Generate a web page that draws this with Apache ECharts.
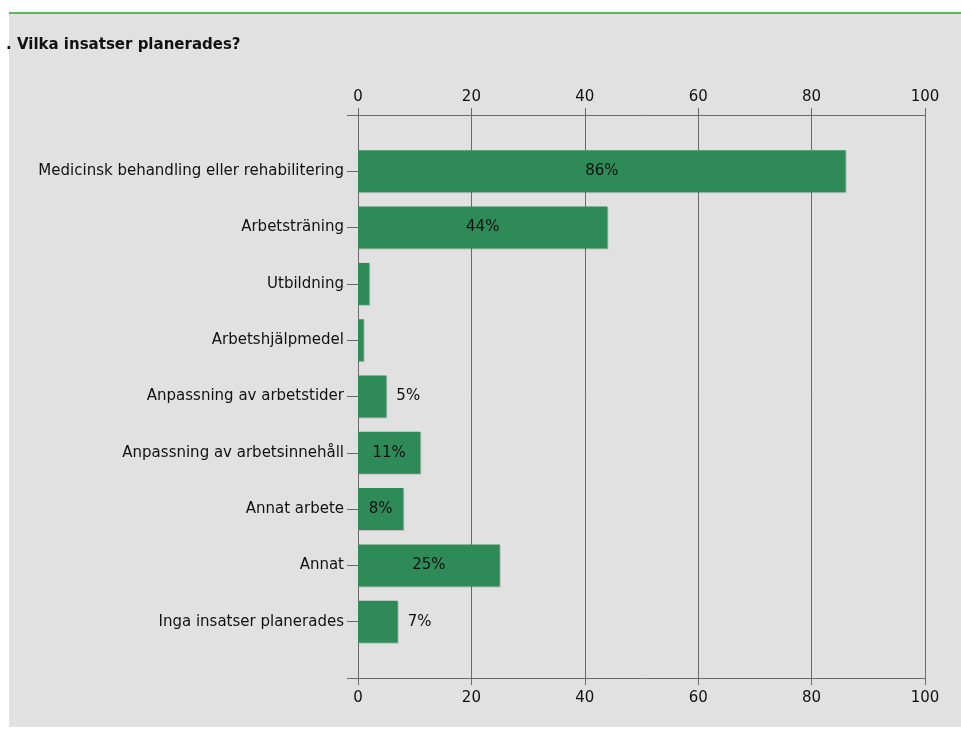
<!DOCTYPE html>
<html>
<head>
<meta charset="utf-8">
<script src="https://cdn.jsdelivr.net/npm/echarts@6/dist/echarts.min.js"></script>
<style>
  html, body { margin: 0; padding: 0; background: #fff; }
  #chart { width: 961px; height: 731px; }
</style>
</head>
<body>
<div id="chart"></div>
<script>
var categories = [
    'Medicinsk behandling eller rehabilitering',
    'Arbetsträning',
    'Utbildning',
    'Arbetshjälpmedel',
    'Anpassning av arbetstider',
    'Anpassning av arbetsinnehåll',
    'Annat arbete',
    'Annat',
    'Inga insatser planerades'
];
var values = [86, 44, 2, 1, 5, 11, 8, 25, 7];
var xTicks = [0, 20, 40, 60, 80, 100];

var chart = echarts.init(document.getElementById('chart'));

// empty slots at both ends so the categories sit at 1..9 of a 0..10 band
var yData = [''].concat(categories, ['']);
var barData = ['-'].concat(values.map(function(v) {
    var pos = v >= 8 ? 'inside' : 'right';
    return {
        value: v,
        label: { show: v >= 3, position: pos }
    };
}), ['-']);

var axisColor = '#6a6a6a';
var font = 'DejaVu Sans, Verdana, sans-serif';

var xAxisBase = {
    type: 'value',
    min: xTicks[0],
    max: xTicks[xTicks.length - 1],
    interval: 20,
    axisLine: { show: true, lineStyle: { color: axisColor, width: 1 } },
    axisTick: { show: true, length: 7, lineStyle: { color: axisColor } },
    axisLabel: { color: '#111', fontFamily: font, fontSize: 15, margin: 10 }
};

var option = {
    backgroundColor: '#fff',
    animation: false,
    graphic: [
        { type: 'rect', z: -10, shape: { x: 9, y: 13, width: 952, height: 714 }, style: { fill: '#e1e1e1' } },
        { type: 'rect', z: -9, shape: { x: 9, y: 12, width: 952, height: 2 }, style: { fill: '#5cb85c' } }
    ],
    title: {
        text: '. Vilka insatser planerades?',
        left: 6,
        top: 38,
        padding: 0,
        textStyle: { fontFamily: font, fontSize: 15, fontWeight: 'bold', color: '#111' }
    },
    grid: {
        left: 358,
        right: 36,
        top: 115,
        bottom: 53
    },
    xAxis: [
        Object.assign({}, xAxisBase, {
            position: 'top',
            splitLine: { show: true, lineStyle: { color: axisColor, width: 1 } }
        }),
        Object.assign({}, xAxisBase, {
            position: 'bottom',
            axisLabel: Object.assign({}, xAxisBase.axisLabel, { margin: 13 }),
            splitLine: { show: false }
        })
    ],
    yAxis: {
        type: 'category',
        inverse: true,
        boundaryGap: false,
        data: yData,
        axisLine: { show: true, lineStyle: { color: axisColor } },
        axisTick: { show: true, length: 11, interval: 0, lineStyle: { color: axisColor } },
        axisLabel: { interval: 0, margin: 14, color: '#111', fontFamily: font, fontSize: 15 }
    },
    series: [
        {
            type: 'bar',
            barWidth: 42,
            data: barData,
            itemStyle: {
                color: '#2e8b57',
                shadowColor: 'rgba(0,0,0,0.15)',
                shadowOffsetX: 1,
                shadowOffsetY: 1
            },
            label: {
                show: true,
                distance: 10,
                formatter: '{c}%',
                color: '#111',
                fontFamily: font,
                fontSize: 15
            }
        }
    ]
};
chart.setOption(option);
</script>
</body>
</html>
